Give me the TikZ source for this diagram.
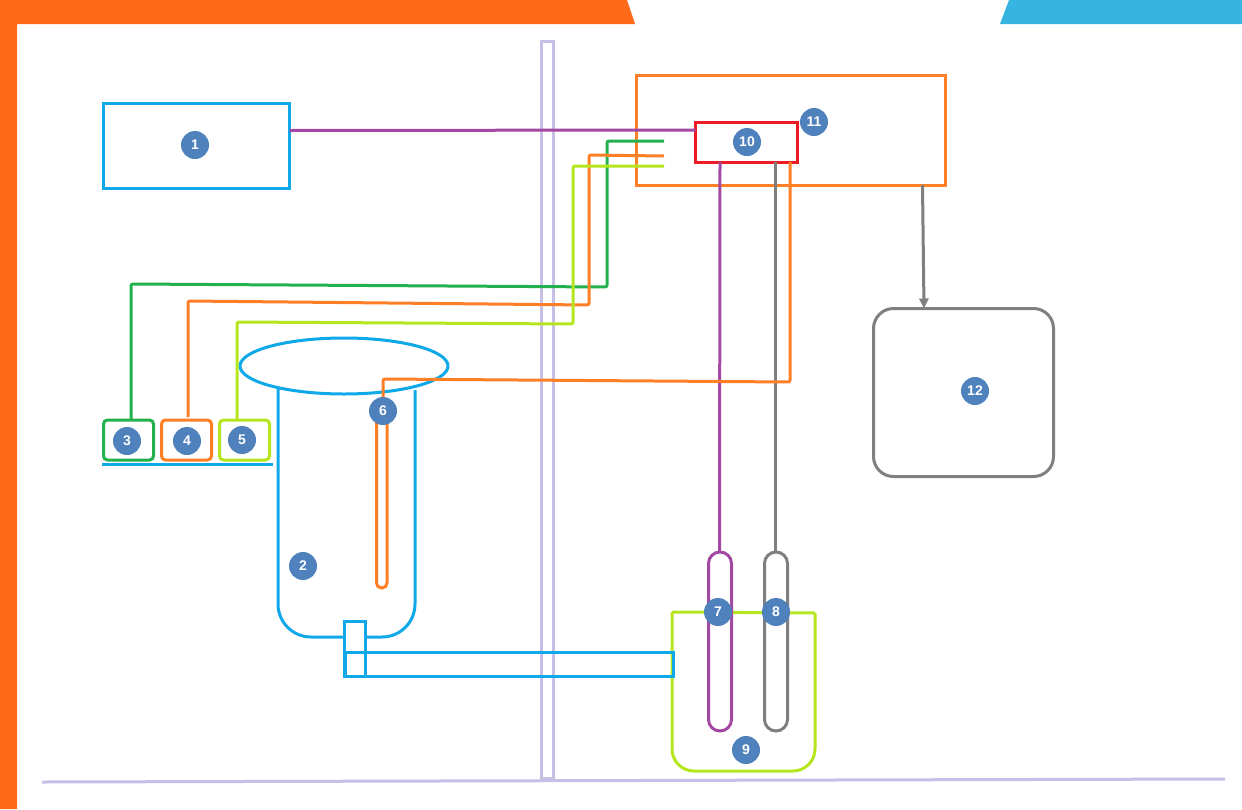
\documentclass[tikz,border=0pt]{standalone}
\usepackage{fontspec}
\setsansfont{Liberation Sans}
\usepackage{xcolor}
\usetikzlibrary{arrows.meta,positioning,shapes.geometric}
\definecolor{wallc}{HTML}{C8BFE7}
\definecolor{bluec}{HTML}{0FA8E8}
\definecolor{orangec}{HTML}{FF7F27}
\definecolor{greenc}{HTML}{22B14C}
\definecolor{limec}{HTML}{B5E61D}
\definecolor{redc}{HTML}{ED1C24}
\definecolor{purplec}{HTML}{A349A4}
\definecolor{grayc}{HTML}{7F7F7F}
\definecolor{badgec}{HTML}{4F81BD}
\definecolor{bannero}{HTML}{FF6A1A}
\definecolor{bannerb}{HTML}{38B4E3}

\begin{document}
\begin{tikzpicture}[
  x=1pt,y=-1pt,
  boxc/.style={draw,line width=3pt,inner sep=0pt,outer sep=0pt},
  sensor/.style={boxc,rounded corners=4pt,minimum width=50pt,minimum height=40pt},
  tube/.style={boxc,rounded corners=11.5pt,minimum width=23pt,minimum height=179pt},
  wire/.style={line width=3pt,rounded corners=2pt},
  badge/.style={circle,fill=badgec,text=white,font=\sffamily\bfseries\fontsize{14}{14}\selectfont,minimum size=28pt,inner sep=0pt}
]
\useasboundingbox (0,0) rectangle (1242,809);
\fill[white] (0,0) rectangle (1242,809);
\fill[bannero] (0,0) -- (627,0) -- (635,24) -- (17,24) -- (17,809) -- (0,809) -- cycle;
\fill[bannerb] (1009,0) -- (1242,0) -- (1242,24) -- (1000,24) -- cycle;

% wall and floor
\node[boxc,draw=wallc,minimum width=12pt,minimum height=737pt] (wall) at (547,409.5) {};
\coordinate (floorL) at (42,782);
\coordinate (floorR) at (1225,779);
\draw[wallc,line width=3pt] (floorL) -- (floorR);

% boxes
\node[boxc,draw=bluec,minimum width=186pt,minimum height=85pt] (pump) at (196.5,145.5) {};
\node[boxc,draw=orangec,minimum width=309pt,minimum height=110pt] (cabinet) at (790.5,130) {};
\node[boxc,draw=grayc,rounded corners=20pt,minimum width=180pt,minimum height=168pt] (display) at (963.5,392.5) {};
\node[sensor,draw=greenc] (sensorA) at (128.5,440) {};
\node[sensor,draw=orangec,right=8pt of sensorA] (sensorB) {};
\node[sensor,draw=limec,right=8pt of sensorB] (sensorC) {};
\coordinate (shelfL) at (102,464);
\coordinate (shelfR) at (273,464);
\draw[bluec,line width=3pt] (shelfL) -- (shelfR);

% bath
\draw[limec,line width=3pt,rounded corners=22pt] (672,612) -- (672,771) -- (815,771) -- (815,613);
\draw[limec,line width=3pt] (672,612) -- (815,613);
\node[tube,draw=purplec] (tubeA) at (720,641.5) {};
\node[tube,draw=grayc] (tubeB) at (776,641.5) {};

% tank
\draw[bluec,line width=3pt,rounded corners=33pt] (278,388) -- (278,637) -- (344,637);
\draw[bluec,line width=3pt,rounded corners=33pt] (366,637) -- (415,637) -- (415,390);
\node[ellipse,boxc,draw=bluec,minimum width=208pt,minimum height=56pt] (tanktop) at (344,366) {};
\node[boxc,draw=bluec,minimum width=21pt,minimum height=55pt] (outlet) at (355,648.5) {};
\node[boxc,draw=bluec,minimum width=328pt,minimum height=24pt] (pipe) at (509,664.5) {};

% controller
\node[boxc,draw=redc,minimum width=102pt,minimum height=40pt] (ctrl) at (746.5,142) {};
\draw[purplec,wire] ([yshift=15pt]pump.east) -- ([yshift=12pt]ctrl.west);
\draw[purplec,wire] ([xshift=-26.5pt]ctrl.south) -- ([xshift=-0.5pt]tubeA.north);
\draw[grayc,wire] ([xshift=28.5pt]ctrl.south) -- ([xshift=-1pt]tubeB.north);
\draw[grayc,line width=3pt,-{Triangle[length=10pt,width=9pt]}] ([xshift=132pt]cabinet.south) -- ([xshift=-39.5pt]display.north);

% sensor wires
\coordinate (endA) at (664,141);
\coordinate (endB) at (664,156);
\coordinate (endC) at (664,166);
\draw[greenc,wire] (sensorA.north) ++(2.5,0) -- (131,284) -- (607,287) -- (607,141) -- (endA);
\draw[orangec,wire] (188,417) -- (188,301) -- (589,305) -- (589,155) -- (endB);
\draw[limec,wire] (237,420) -- (237,322) -- (573,324) -- (573,166) -- (endC);

% heater
\draw[orangec,wire] (790,162) -- (790,382) -- (383,379) -- (383,400);
\draw[orangec,line width=3pt,rounded corners=5pt] (376.5,420) -- (376.5,588) -- (387,588) -- (387,420);

% number badges
\node[badge] (n1) at (195,145) {1};
\node[badge] (n2) at (303,566) {2};
\node[badge] (n3) at (127,441) {3};
\node[badge] (n4) at (187,441) {4};
\node[badge] (n5) at (242,440) {5};
\node[badge] (n6) at (383,411) {6};
\node[badge] (n7) at (718,612) {7};
\node[badge] (n8) at (776,612) {8};
\node[badge] (n9) at (746,750) {9};
\node[badge] (n10) at (747,142) {10};
\node[badge] (n11) at (814,122) {11};
\node[badge] (n12) at (975,391) {12};
\end{tikzpicture}
\end{document}
